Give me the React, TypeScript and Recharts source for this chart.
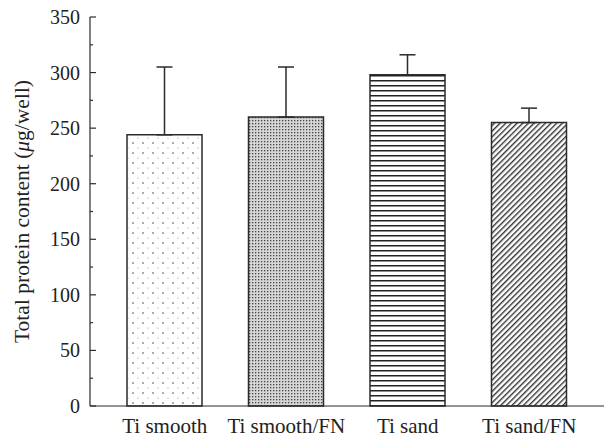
import React from "react";
import { BarChart, Bar, XAxis, YAxis, ErrorBar, Cell } from "recharts";

const categories = ["Ti smooth", "Ti smooth/FN", "Ti sand", "Ti sand/FN"];
const proteinMeans = [244, 260, 298, 255];
const proteinErrors = [61, 45, 18, 13];
const yTicks = [0, 25, 50, 75, 100, 125, 150, 175, 200, 225, 250, 275, 300, 325, 350];
const patternIds = ["pDots", "pDense", "pHoriz", "pDiag"];

const data = categories.map((name, i) => ({
  name,
  value: proteinMeans[i],
  err: [0, proteinErrors[i]],
}));

const FONT = "'Liberation Serif', 'DejaVu Serif', serif";
const INK = "#2b2b2b";

const YTick = (props: any) => {
  const { x, y, payload } = props;
  const major = payload.value % 50 === 0;
  return (
    <g>
      <line x1={x} y1={y} x2={x + (major ? 6 : 3)} y2={y} stroke={INK} strokeWidth={1.2} />
      {major && (
        <text x={x - 10} y={y} dy="0.35em" textAnchor="end" fontFamily={FONT} fontSize={20} fill="#222">
          {payload.value}
        </text>
      )}
    </g>
  );
};

const YLabel = (props: any) => {
  const vb = props.viewBox || { x: 0, y: 0, width: 90, height: 389 };
  const cx = vb.x + 22;
  const cy = vb.y + vb.height / 2;
  return (
    <text
      x={cx}
      y={cy}
      transform={`rotate(-90, ${cx}, ${cy})`}
      textAnchor="middle"
      dominantBaseline="central"
      fontFamily={FONT}
      fontSize={21.5}
      fill="#222"
    >
      Total protein content (<tspan fontStyle="italic">μ</tspan>g/well)
    </text>
  );
};

export default function App() {
  return (
    <div style={{ position: "absolute", left: 0, top: 0, background: "#fff" }}>
      <BarChart
        width={616}
        height={439}
        data={data}
        margin={{ top: 17, right: 12, bottom: 0, left: 0 }}
        barCategoryGap={0}
      >
        <defs>
          <pattern id="pDots" width="10" height="10" patternUnits="userSpaceOnUse">
            <rect width="10" height="10" fill="#fff" />
            <circle cx="3" cy="3" r="0.8" fill="#444" />
            <circle cx="8" cy="8" r="0.6" fill="#888" />
          </pattern>
          <pattern id="pDense" width="3" height="3" patternUnits="userSpaceOnUse">
            <rect width="3" height="3" fill="#d6d6d6" />
            <rect x="0" y="0" width="1.3" height="1.3" fill="#444" />
          </pattern>
          <pattern id="pHoriz" width="6" height="5" patternUnits="userSpaceOnUse">
            <rect width="6" height="5" fill="#fff" />
            <rect x="0" y="0" width="6" height="1.5" fill="#222" />
          </pattern>
          <pattern id="pDiag" width="4" height="4" patternUnits="userSpaceOnUse" patternTransform="rotate(45)">
            <rect width="4" height="4" fill="#fff" />
            <rect x="0" y="0" width="1.4" height="4" fill="#333" />
          </pattern>
        </defs>
        <XAxis
          dataKey="name"
          height={33}
          axisLine={{ stroke: INK, strokeWidth: 1.2 }}
          tickLine={false}
          tickSize={0}
          padding={{ left: 14, right: 14 }}
          tick={{ fontFamily: FONT, fontSize: 21, fill: "#222" }}
          tickMargin={12}
          interval={0}
        />
        <YAxis
          width={90}
          domain={[0, 350]}
          ticks={yTicks}
          interval={0}
          axisLine={{ stroke: INK, strokeWidth: 1.2 }}
          tickLine={false}
          tickSize={0}
          tickMargin={0}
          tick={<YTick />}
          label={{ content: <YLabel /> }}
        />
        <Bar dataKey="value" barSize={75} stroke={INK} strokeWidth={1.5} isAnimationActive={false}>
          {data.map((d, i) => (
            <Cell key={d.name} fill={`url(#${patternIds[i]})`} />
          ))}
          <ErrorBar dataKey="err" width={8} stroke={INK} strokeWidth={1.5} direction="y" />
        </Bar>
      </BarChart>
    </div>
  );
}
